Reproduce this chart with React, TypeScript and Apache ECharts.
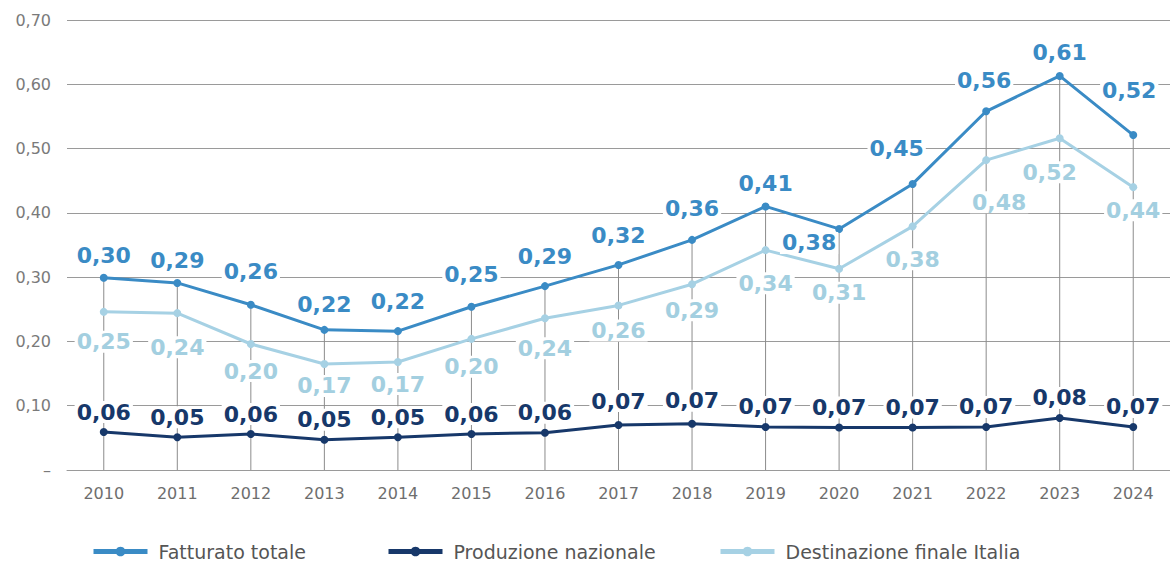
import React, { useEffect, useRef } from "react";
import * as echarts from "echarts";

const years = ["2010","2011","2012","2013","2014","2015","2016","2017","2018","2019","2020","2021","2022","2023","2024"];
const fatturato = [0.299, 0.291, 0.257, 0.218, 0.216, 0.254, 0.286, 0.319, 0.358, 0.41, 0.375, 0.445, 0.558, 0.613, 0.521];
const produzione = [0.059, 0.051, 0.056, 0.047, 0.051, 0.056, 0.058, 0.07, 0.072, 0.067, 0.066, 0.066, 0.067, 0.081, 0.067];
const destinazione = [0.246, 0.244, 0.196, 0.165, 0.168, 0.204, 0.236, 0.256, 0.289, 0.342, 0.313, 0.379, 0.482, 0.516, 0.44];
const seriesNames = ["Fatturato totale", "Produzione nazionale", "Destinazione finale Italia"];

const C_FATT = "#3a8bc5";
const C_PROD = "#17386a";
const C_DEST = "#a6d1e4";
const C_DEST_LABEL = "#a3cfe0";

const fmt = (v: number) => v.toFixed(2).replace(".", ",");

// label placement tweaks (index -> [dx, dy])
const fattAdjust: Record<number, [number, number]> = {
  0: [0, 1],
  1: [0, 1],
  2: [0, -10],
  3: [0, -2],
  4: [0, -7],
  5: [0, -9],
  6: [0, -7],
  7: [0, -6],
  8: [0, -8],
  10: [-30, 37],
  11: [-16, -12],
  12: [-2, -8],
  13: [0, 0],
  14: [-4, -22],
};
const destAdjust: Record<number, [number, number]> = {
  0: [0, -3],
  1: [0, 1],
  2: [0, -6],
  3: [0, -11],
  4: [0, -11],
  5: [0, -5],
  6: [0, -3],
  7: [0, -8],
  8: [0, -7],
  10: [0, -9],
  11: [0, 0],
  12: [13, 9],
  13: [-10, 1],
  14: [0, -10],
};
const prodAdjust: Record<number, [number, number]> = {
  7: [0, -4],
  8: [0, -3],
};

export default function App() {
  const ref = useRef<HTMLDivElement>(null);
  useEffect(() => {
    if (!ref.current) return;
    const chart = echarts.init(ref.current, undefined, { renderer: "svg" });
    const font = "DejaVu Sans";
    const labelBase = {
      show: true,
      fontFamily: font,
      fontWeight: "bold" as const,
      fontSize: 22,
      backgroundColor: "#ffffff",
      padding: [0, 2, 0, 2],
      formatter: (p: any) => fmt(p.value),
    };
    const mk = (arr: number[], adj: Record<number, [number, number]>) =>
      arr.map((v, i) => (adj[i] ? { value: v, label: { offset: adj[i] } } : v));
    const legendLefts = [86, 381, 713];

    chart.setOption({
      animation: false,
      grid: { left: 67, right: 0, top: 20, bottom: 96 },
      xAxis: {
        type: "category",
        data: years,
        boundaryGap: true,
        axisLine: { show: true, lineStyle: { color: "#9a9a9a", width: 1 } },
        axisTick: { show: false },
        axisLabel: { color: "#6e6e6e", fontFamily: font, fontSize: 16, margin: 15 },
        splitLine: { show: false },
      },
      yAxis: {
        type: "value",
        min: 0,
        max: 0.7,
        interval: 0.1,
        axisLine: { show: false },
        axisTick: { show: false },
        axisLabel: {
          color: "#7a7a7a",
          fontFamily: font,
          fontSize: 16,
          margin: 16,
          formatter: (v: number) => (v === 0 ? "–" : fmt(v)),
        },
        splitLine: { show: true, lineStyle: { color: "#9a9a9a", width: 1 } },
      },
      legend: seriesNames.map((n, i) => ({
        data: [n],
        bottom: 0,
        left: legendLefts[i],
        itemWidth: 54,
        itemHeight: 12,
        lineStyle: { width: 5 },
        textStyle: { color: "#555555", fontFamily: font, fontSize: 19, padding: [0, 0, 0, 6] },
      })),
      series: [
        {
          name: "drop",
          type: "bar",
          data: fatturato,
          barWidth: 1,
          itemStyle: { color: "#8c8c8c" },
          silent: true,
          z: 1,
        },
        {
          name: "Destinazione finale Italia",
          type: "line",
          data: mk(destinazione, destAdjust),
          color: C_DEST,
          lineStyle: { width: 3, color: C_DEST },
          symbol: "circle",
          symbolSize: 8,
          itemStyle: { color: C_DEST },
          z: 3,
          label: { ...labelBase, position: "bottom", distance: 18, color: C_DEST_LABEL },
        },
        {
          name: "Fatturato totale",
          type: "line",
          data: mk(fatturato, fattAdjust),
          color: C_FATT,
          lineStyle: { width: 3, color: C_FATT },
          symbol: "circle",
          symbolSize: 8,
          itemStyle: { color: C_FATT },
          z: 4,
          label: { ...labelBase, position: "top", distance: 8, color: C_FATT },
        },
        {
          name: "Produzione nazionale",
          type: "line",
          data: mk(produzione, prodAdjust),
          color: C_PROD,
          lineStyle: { width: 3, color: C_PROD },
          symbol: "circle",
          symbolSize: 8,
          itemStyle: { color: C_PROD },
          z: 4,
          label: { ...labelBase, position: "top", distance: 5, color: C_PROD },
        },
      ],
    });
    return () => chart.dispose();
  }, []);
  return (
    <div
      ref={ref}
      style={{ position: "fixed", left: 0, top: 0, width: 1170, height: 566, background: "#ffffff" }}
    />
  );
}
